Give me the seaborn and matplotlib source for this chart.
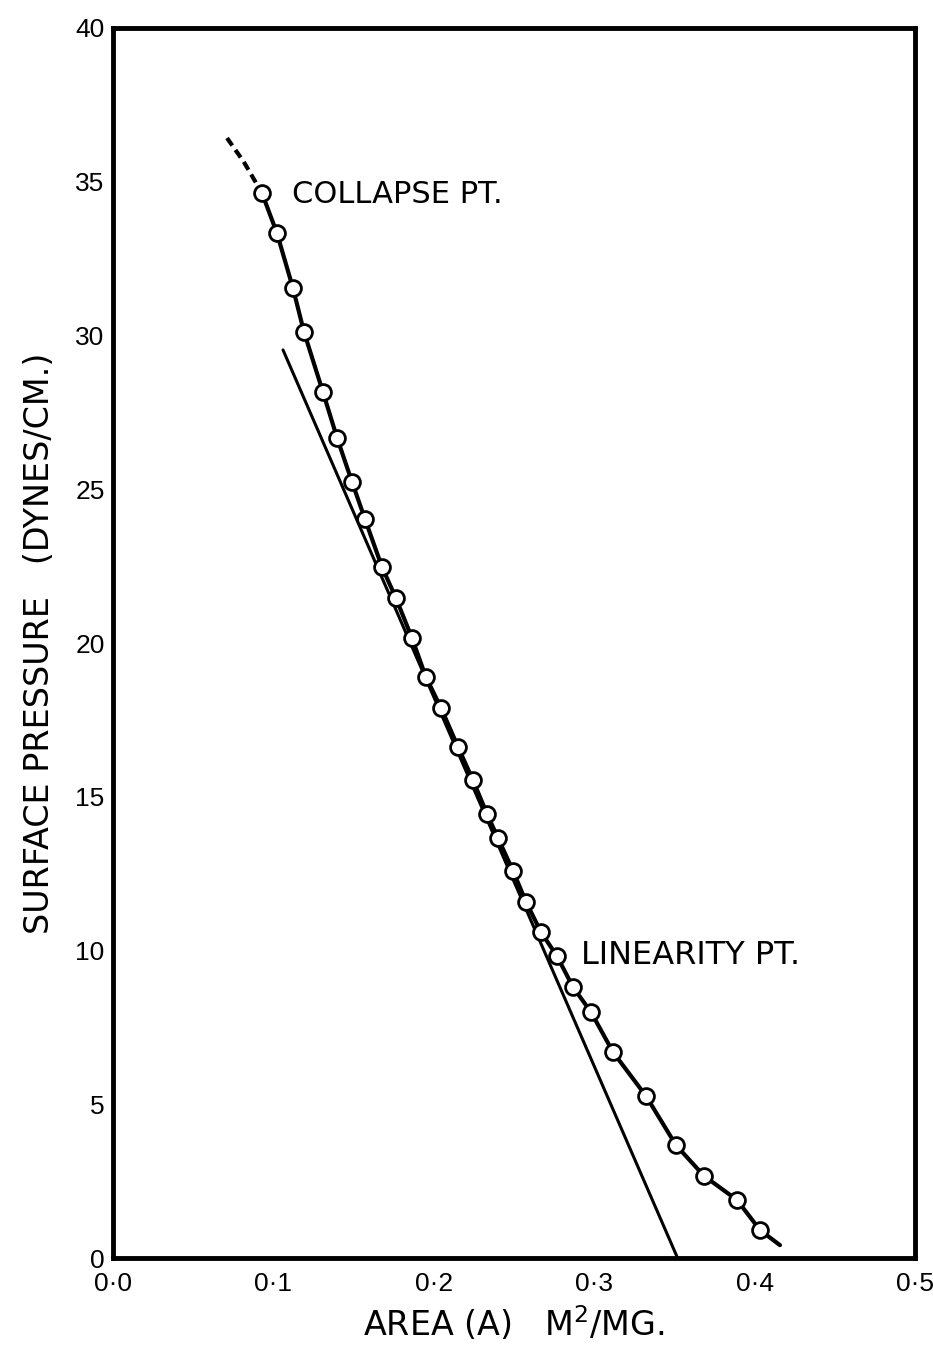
import numpy as np
import pandas as pd
import matplotlib
matplotlib.use("Agg")
import matplotlib.pyplot as plt
import seaborn as sns

# measured points: area (m2/mg) vs surface pressure (dynes/cm)
area = [0.0929, 0.1022, 0.1122, 0.1191, 0.1309, 0.1397, 0.1490, 0.1571, 0.1677,
        0.1764, 0.1864, 0.1951, 0.2045, 0.2151, 0.2244, 0.2332, 0.2400, 0.2494,
        0.2575, 0.2668, 0.2768, 0.2868, 0.2980, 0.3117, 0.3323, 0.3510, 0.3685,
        0.3890, 0.4034]
pressure = [34.63, 33.33, 31.54, 30.11, 28.16, 26.67, 25.24, 24.03, 22.47,
            21.46, 20.16, 18.89, 17.89, 16.62, 15.54, 14.44, 13.66, 12.59,
            11.58, 10.60, 9.82, 8.81, 8.00, 6.70, 5.27, 3.67, 2.67,
            1.89, 0.91]

# curve tail past the last point
tail_area = [0.4034, 0.4158]
tail_pressure = [0.91, 0.42]

# dashed extension above the collapse point
dash_area = [0.0711, 0.0815, 0.0929]
dash_pressure = [36.42, 35.65, 34.63]

# tangent line through the linear part
tangent_area = [0.106, 0.352]
tangent_pressure = [29.53, 0.0]

xticks = [0.0, 0.1, 0.2, 0.3, 0.4, 0.5]
xtick_labels = ["0·0", "0·1", "0·2", "0·3", "0·4", "0·5"]
yticks = [0, 5, 10, 15, 20, 25, 30, 35, 40]

sns.set_style("white")
plt.rcParams['font.family'] = ['DejaVu Sans']
plt.rcParams['text.color'] = 'black'
plt.rcParams['axes.labelcolor'] = 'black'
plt.rcParams['xtick.color'] = 'black'
plt.rcParams['ytick.color'] = 'black'

fig = plt.figure(figsize=(9.33, 13.5), dpi=100)
ax = fig.add_axes([0.1211, 0.0681, 0.8596, 0.9112])

df = pd.DataFrame({"area": area, "pressure": pressure})
curve = pd.DataFrame({"area": area + tail_area[1:], "pressure": pressure + tail_pressure[1:]})

sns.lineplot(data=curve, x="area", y="pressure", sort=False, color="black", lw=3, ax=ax)
sns.lineplot(x=dash_area, y=dash_pressure, sort=False, color="black", lw=3,
             linestyle=(0, (2.2, 1.3)), ax=ax)
sns.lineplot(x=tangent_area, y=tangent_pressure, color="black", lw=2.2, ax=ax)
sns.scatterplot(data=df, x="area", y="pressure", s=130, facecolor="white",
                edgecolor="black", linewidth=2.0, zorder=5, ax=ax)

ax.text(0.1116, 34.57, "COLLAPSE PT.", fontsize=22, va="center", ha="left")
ax.text(0.2918, 9.85, "LINEARITY PT.", fontsize=23, va="center", ha="left")

ax.set_xlim(0, 0.5)
ax.set_ylim(0, 40)
ax.set_xticks(xticks)
ax.set_xticklabels(xtick_labels)
ax.set_yticks(yticks)
ax.tick_params(direction="in", length=9, width=3.5, labelsize=20, color="black")
ax.tick_params(axis="x", pad=10)
ax.tick_params(axis="y", pad=6)
for lab in ax.get_xticklabels() + ax.get_yticklabels():
    lab.set_fontfamily("Liberation Sans")
    lab.set_fontsize(19)
for s in ax.spines.values():
    s.set_linewidth(3.5)
    s.set_color("black")

ax.set_xlabel("AREA (A)   M$^2$/MG.", fontsize=24, labelpad=6)
ax.set_ylabel("SURFACE PRESSURE   (DYNES/CM.)", fontsize=24, labelpad=14)

fig.savefig("out.png", dpi=100)
